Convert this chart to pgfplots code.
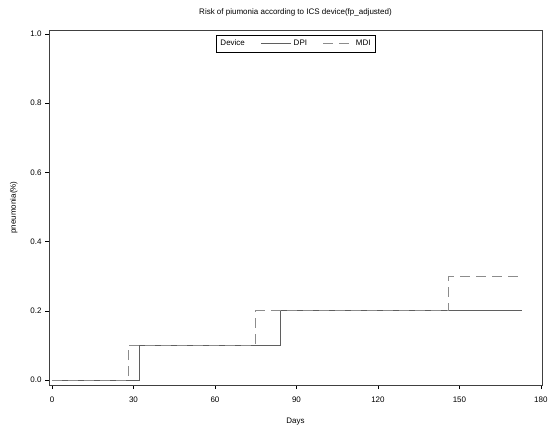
\documentclass[border=0pt]{standalone}
\usepackage{fontspec}
\setmainfont{Liberation Sans}
\usepackage{pgfplots}
\pgfplotsset{compat=1.18}
\definecolor{dpicol}{RGB}{95,95,95}
\definecolor{mdicol}{RGB}{140,140,140}
\begin{document}
\begin{tikzpicture}[x=1pt,y=1pt]
\begin{axis}[
at={(0,0)}, anchor=south west,
width=493pt, height=355pt,
scale only axis,
xmin=-1.1, xmax=180.4,
ymin=-0.0145, ymax=1.0116,
xtick={0,30,60,90,120,150,180},
ytick={0,0.2,0.4,0.6,0.8,1.0},
yticklabel style={/pgf/number format/.cd,fixed,fixed zerofill,precision=1},
tick align=outside,
tick pos=left,
major tick length=4pt,
axis line style={color=black!75, line width=0.7pt},
tick style={black, line width=0.5pt},
/pgf/number format/assume math mode=true,
ticklabel style={font=\fontsize{8}{9}\selectfont},
xticklabel style={yshift=-4pt},
xlabel={Days},
ylabel={pneumonia(\%)},
label style={font=\fontsize{8}{9}\selectfont},
xlabel style={yshift=-9pt},
ylabel style={yshift=6pt},
title={Risk of piumonia according to ICS device(fp\_adjusted)},
title style={font=\fontsize{8}{9}\selectfont, yshift=4pt},
legend columns=3,
legend style={at={(0.5,0.985)}, anchor=north, draw=black, line width=0.5pt,
  font=\fontsize{8}{9}\selectfont, /tikz/every even column/.append style={column sep=14pt},
  inner sep=2.5pt},
legend image code/.code={\draw[#1] (0pt,0pt) -- (30pt,0pt);},
]
\addlegendimage{empty legend}
\addlegendentry{Device}
\addplot[const plot, color=dpicol, line width=0.8pt] coordinates {
(0,0) (32,0.1) (84,0.2) (173,0.2)
};
\addlegendentry{DPI}
\addplot[const plot, color=mdicol, line width=0.8pt, dash pattern=on 10pt off 6pt] coordinates {
(0,0) (28,0.1) (75,0.2) (146,0.3) (173,0.3)
};
\addlegendentry{MDI}
\end{axis}
\useasboundingbox (-49pt,-48pt) rectangle (504pt,385pt);
\end{tikzpicture}
\end{document}
